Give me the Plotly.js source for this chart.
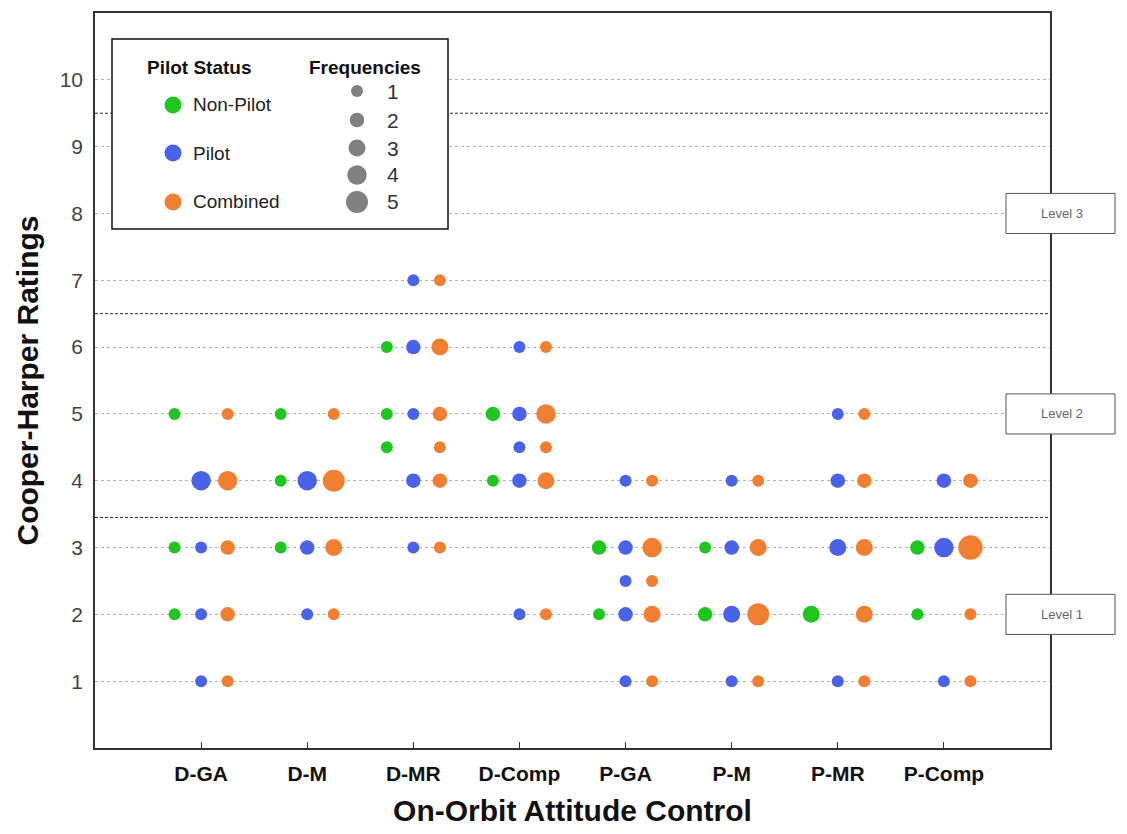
<!DOCTYPE html>
<html>
<head>
<meta charset="utf-8">
<script src="https://cdn.plot.ly/plotly-3.0.1.min.js"></script>
<style>html,body{margin:0;padding:0;background:#fff;}#chart{width:1127px;height:834px;}</style>
</head>
<body>
<div id="chart"></div>
<script>
// ---- Data ----
const categories = ['D-GA', 'D-M', 'D-MR', 'D-Comp', 'P-GA', 'P-M', 'P-MR', 'P-Comp'];
const yTickVals = [1, 2, 3, 4, 5, 6, 7, 8, 9, 10];

// Non-Pilot: category, rating, frequency
const nonPilotCat    = ['D-GA','D-GA','D-GA','D-M','D-M','D-M','D-MR','D-MR','D-MR','D-Comp','D-Comp','P-GA','P-GA','P-M','P-M','P-MR','P-Comp','P-Comp'];
const nonPilotRating = [5, 3, 2, 5, 4, 3, 6, 5, 4.5, 5, 4, 3, 2, 3, 2, 2, 3, 2];
const nonPilotFreq   = [1, 1, 1, 1, 1, 1, 1, 1, 1, 2, 1, 2, 1, 1, 2, 3, 2, 1];

// Pilot
const pilotCat    = ['D-GA','D-GA','D-GA','D-GA','D-M','D-M','D-M','D-MR','D-MR','D-MR','D-MR','D-MR','D-Comp','D-Comp','D-Comp','D-Comp','D-Comp','P-GA','P-GA','P-GA','P-GA','P-GA','P-M','P-M','P-M','P-M','P-MR','P-MR','P-MR','P-MR','P-Comp','P-Comp','P-Comp'];
const pilotRating = [4, 3, 2, 1, 4, 3, 2, 7, 6, 5, 4, 3, 6, 5, 4.5, 4, 2, 4, 3, 2.5, 2, 1, 4, 3, 2, 1, 5, 4, 3, 1, 4, 3, 1];
const pilotFreq   = [4, 1, 1, 1, 4, 2, 1, 1, 2, 1, 2, 1, 1, 2, 1, 2, 1, 1, 2, 1, 2, 1, 1, 2, 3, 1, 1, 2, 3, 1, 2, 4, 1];

// Combined
const combinedCat    = ['D-GA','D-GA','D-GA','D-GA','D-GA','D-M','D-M','D-M','D-M','D-MR','D-MR','D-MR','D-MR','D-MR','D-MR','D-Comp','D-Comp','D-Comp','D-Comp','D-Comp','P-GA','P-GA','P-GA','P-GA','P-GA','P-M','P-M','P-M','P-M','P-MR','P-MR','P-MR','P-MR','P-MR','P-Comp','P-Comp','P-Comp','P-Comp'];
const combinedRating = [5, 4, 3, 2, 1, 5, 4, 3, 2, 7, 6, 5, 4.5, 4, 3, 6, 5, 4.5, 4, 2, 4, 3, 2.5, 2, 1, 4, 3, 2, 1, 5, 4, 3, 2, 1, 4, 3, 2, 1];
const combinedFreq   = [1, 4, 2, 2, 1, 1, 5, 3, 1, 1, 3, 2, 1, 2, 1, 1, 4, 1, 3, 1, 1, 4, 1, 3, 1, 1, 3, 5, 1, 1, 2, 3, 3, 1, 2, 6, 1, 1];

// Level boundaries and labels
const levelBounds = [3.45, 6.5, 9.5];
const levelLabels = ['Level 1', 'Level 2', 'Level 3'];
const levelLabelY = [2, 5, 8];

const legendStatus = ['Non-Pilot', 'Pilot', 'Combined'];
const legendFreqs = [1, 2, 3, 4, 5];

// ---- Styling ----
const FONT = 'Liberation Sans, Arial, sans-serif';
const colors = {nonPilot: '#1fc61f', pilot: '#4a62e8', combined: '#f07f32'};
const offsets = {nonPilot: -0.25, pilot: 0, combined: 0.25};
const sizeFor = f => 9.5 + 2.5 * f;

function makeTrace(cats, ratings, freqs, key, name) {
  return {
    type: 'scatter', mode: 'markers', name: name, showlegend: false,
    x: cats.map(c => categories.indexOf(c) + 1 + offsets[key]),
    y: ratings,
    text: freqs.map(f => 'Frequency: ' + f),
    marker: {color: colors[key], size: freqs.map(sizeFor), line: {width: 0}, opacity: 1},
    hovertemplate: name + '<br>Rating %{y}<br>%{text}<extra></extra>'
  };
}

const traces = [
  makeTrace(nonPilotCat, nonPilotRating, nonPilotFreq, 'nonPilot', 'Non-Pilot'),
  makeTrace(pilotCat, pilotRating, pilotFreq, 'pilot', 'Pilot'),
  makeTrace(combinedCat, combinedRating, combinedFreq, 'combined', 'Combined')
];

// plot area geometry in px (for legend placement)
const L = 95, R = 1050, T = 13, B = 748;
const px = x => (x - L) / (R - L);
const py = y => (B - y) / (B - T);

const shapes = [];
const annotations = [];

// dashed level boundaries
levelBounds.forEach(v => shapes.push({
  type: 'line', xref: 'paper', yref: 'y', x0: 0, x1: 1, y0: v, y1: v,
  line: {color: '#2a2a2a', width: 1, dash: '3px,2px'}, layer: 'below'
}));

// level boxes
levelLabels.forEach((t, i) => {
  const yc = levelLabelY[i];
  shapes.push({type: 'rect', xref: 'paper', yref: 'paper',
    x0: px(1006), x1: px(1115), y0: (yc - 0.3) / 11, y1: (yc + 0.3) / 11,
    fillcolor: '#ffffff', line: {color: '#555', width: 1}, layer: 'above'});
  annotations.push({xref: 'paper', yref: 'paper', x: px(1062), y: yc / 11, text: t,
    showarrow: false, xanchor: 'center', yanchor: 'middle',
    font: {family: FONT, size: 13, color: '#666'}});
});

// legend box
shapes.push({type: 'rect', xref: 'paper', yref: 'paper', x0: px(112), x1: px(448), y0: py(229), y1: py(39),
  fillcolor: '#ffffff', line: {color: '#111', width: 1.5}, layer: 'above'});
annotations.push({xref: 'paper', yref: 'paper', x: px(199), y: py(67), text: '<b>Pilot Status</b>', showarrow: false,
  xanchor: 'center', yanchor: 'middle', font: {family: FONT, size: 19, color: '#111'}});
annotations.push({xref: 'paper', yref: 'paper', x: px(365), y: py(67), text: '<b>Frequencies</b>', showarrow: false,
  xanchor: 'center', yanchor: 'middle', font: {family: FONT, size: 19, color: '#111'}});

const statusKeys = ['nonPilot', 'pilot', 'combined'];
const statusY = [105, 153, 202];
legendStatus.forEach((name, i) => {
  const r = 8.5;
  shapes.push({type: 'circle', xref: 'paper', yref: 'paper', xsizemode: 'pixel', ysizemode: 'pixel',
    xanchor: px(173), yanchor: py(statusY[i]), x0: -r, x1: r, y0: -r, y1: r,
    fillcolor: colors[statusKeys[i]], line: {width: 0}, layer: 'above'});
  annotations.push({xref: 'paper', yref: 'paper', x: px(191), y: py(statusY[i]), text: name, showarrow: false,
    xanchor: 'left', yanchor: 'middle', font: {family: FONT, size: 19, color: '#222'}});
});

const freqY = [91, 120, 148, 175, 202];
legendFreqs.forEach((f, i) => {
  const r = sizeFor(f) / 2;
  shapes.push({type: 'circle', xref: 'paper', yref: 'paper', xsizemode: 'pixel', ysizemode: 'pixel',
    xanchor: px(357), yanchor: py(freqY[i]), x0: -r, x1: r, y0: -r, y1: r,
    fillcolor: '#808080', line: {width: 0}, layer: 'above'});
  annotations.push({xref: 'paper', yref: 'paper', x: px(385), y: py(freqY[i]), text: String(f), showarrow: false,
    xanchor: 'left', yanchor: 'middle', font: {family: FONT, size: 21, color: '#333'}});
});

const layout = {
  width: 1127, height: 834,
  margin: {l: L, r: 1127 - R, t: T, b: 834 - B},
  paper_bgcolor: '#ffffff', plot_bgcolor: '#ffffff',
  showlegend: false,
  font: {family: FONT},
  xaxis: {
    range: [0, 9], tickvals: categories.map((c, i) => i + 1), ticktext: categories,
    showgrid: false, zeroline: false, showline: true, mirror: true, linecolor: '#333', linewidth: 1.5,
    ticks: 'inside', ticklen: 6, tickcolor: '#333', tickwidth: 1,
    tickfont: {family: FONT, size: 21, color: '#111', weight: 'bold'},
    ticklabelstandoff: 6,
    title: {text: '<b>On-Orbit Attitude Control</b>', font: {family: FONT, size: 30, color: '#111'}, standoff: 16}
  },
  yaxis: {
    range: [0, 11], tickvals: yTickVals, ticktext: yTickVals.map(String),
    showgrid: true, gridcolor: '#b5b5b5', griddash: 'dot', gridwidth: 1,
    zeroline: false, showline: true, mirror: true, linecolor: '#333', linewidth: 1.5,
    ticks: '', tickfont: {family: FONT, size: 21, color: '#444'},
    ticklabelstandoff: 6,
    title: {text: '<b>Cooper-Harper Ratings</b>', font: {family: FONT, size: 30, color: '#111'}, standoff: 12}
  },
  shapes: shapes,
  annotations: annotations
};

Plotly.newPlot('chart', traces, layout, {displayModeBar: false, staticPlot: false});
</script>
</body>
</html>
